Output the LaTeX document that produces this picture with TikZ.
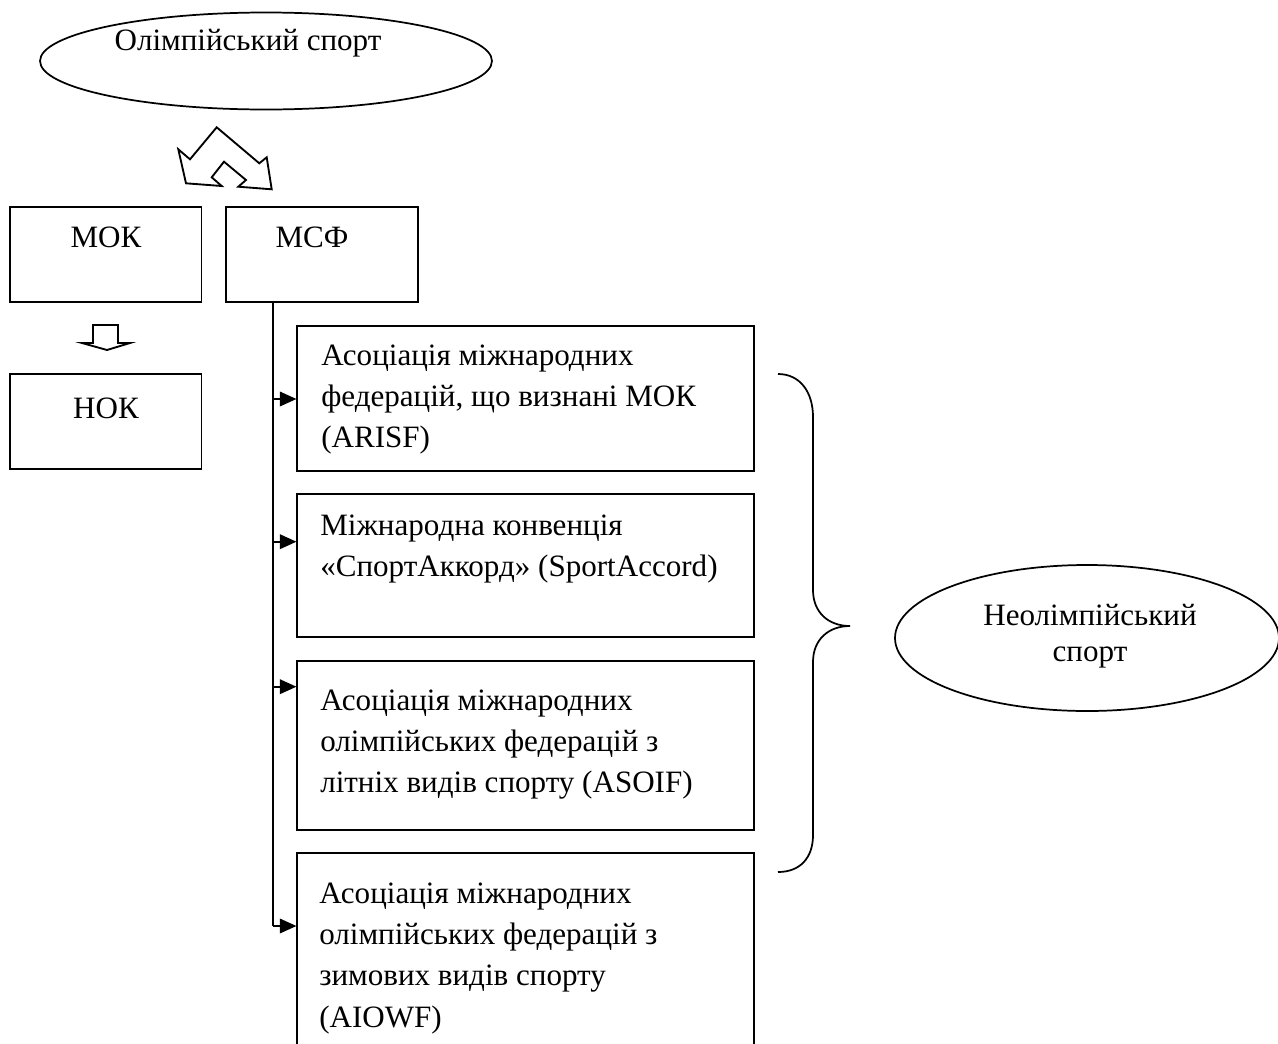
\documentclass[tikz,border=0pt]{standalone}
\usepackage{fontspec}
\setmainfont{Liberation Serif}
\usetikzlibrary{arrows.meta,calc,shapes.geometric}
\newcommand{\mylines}[1]{\begin{tabular}[t]{@{}l@{}}#1\end{tabular}}
\newcommand{\mycentered}[1]{\begin{tabular}[t]{@{}c@{}}#1\end{tabular}}
\begin{document}
\begin{tikzpicture}[x=0.75pt,y=-0.75pt,
  every node/.style={font=\fontsize{23.3}{31.1}\selectfont},
  line/.style={line width=1.3pt},
  box/.style={draw, line width=1.3pt, rectangle, inner sep=0pt},
  smallbox/.style={box, minimum width=143.8pt, minimum height=71.25pt},
  bigbox/.style={box, minimum width=342.75pt},
  oval/.style={draw, line width=1.3pt, ellipse, inner sep=0pt},
  txt/.style={inner sep=0pt, anchor=base west},
  ctxt/.style={inner sep=0pt, anchor=base},
  arr/.style={line width=1.3pt, -{Triangle[length=12.5pt,width=11pt]}},
  blockarrow/.style={line width=1.4pt, line join=miter}
]
\useasboundingbox (0,0) rectangle (1278,1043);

% top ellipse
\node[oval, minimum width=339pt, minimum height=72.75pt] (olymp) at (266,61) {};
\node[ctxt] (tolymp) at (248,50) {Олімпійський спорт};

% double block arrow
\draw[blockarrow] (216.7,127.3) -- (190,159.3) -- (178.3,149.3) -- (186,183.3)
  -- (221.7,186) -- (211.7,177.3) -- (224,161.7) -- (246,180) -- (238.3,186.7)
  -- (271.7,189.3) -- (266.7,157.3) -- (259.3,163.3) -- cycle;

% MOK, MSF, NOK
\node[smallbox] (mok) at (105.5,254.2) {};
\node[ctxt] (tmok) at (106,247) {МОК};
\node[smallbox] (msf) at (321.9,254.2) {};
\node[ctxt] (tmsf) at (312,247) {МСФ};
\node[smallbox] (nok) at (105.5,421.5) {};
\node[ctxt] (tnok) at (106,418) {НОК};

% small down block arrow
\draw[blockarrow] (93,325) -- (118,325) -- (118,343) -- (130,343) -- (107,350)
  -- (82,343) -- (93,343) -- cycle;

% right boxes
\node[bigbox, minimum height=108.97pt] (b1) at (525.8,398.35) {};
\node[txt] (t1) at (321,365) {\mylines{Асоціація міжнародних\\федерацій, що визнані МОК\\(ARISF)}};

\node[bigbox, minimum height=107.25pt] (b2) at (525.8,565.35) {};
\node[txt] (t2) at (320,535) {\mylines{Міжнародна конвенція\\«СпортАккорд» (SportAccord)}};

\node[bigbox, minimum height=126.75pt] (b3) at (525.8,745.5) {};
\node[txt] (t3) at (320,710) {\mylines{Асоціація міжнародних\\олімпійських федерацій з\\літніх видів спорту (ASOIF)}};

\node[bigbox, minimum height=162.75pt] (b4) at (525.8,961.5) {};
\node[txt] (t4) at (319,903) {\mylines{Асоціація міжнародних\\олімпійських федерацій з\\зимових видів спорту\\(AIOWF)}};

% trunk and arrows
\coordinate (trunk) at ($(msf.south west)+(48,0)$);
\draw[line] (trunk) -- (trunk |- 0,926);
\draw[arr] (trunk |- 0,399) -- (b1.west |- 0,399);
\draw[arr] (trunk |- 0,541.7) -- (b2.west |- 0,541.7);
\draw[arr] (trunk |- 0,686.7) -- (b3.west |- 0,686.7);
\draw[arr] (trunk |- 0,926) -- (b4.west |- 0,926);

% brace
\draw[line] (778,374) .. controls (800,374) and (813,392) .. (813,417) -- (813,590)
  .. controls (813,612) and (828,626) .. (850,626)
  .. controls (828,626) and (813,640) .. (813,662) -- (813,835)
  .. controls (813,858) and (800,872) .. (778,872);

% right ellipse
\node[oval, minimum width=288pt, minimum height=109.5pt] (neo) at (1087,638) {};
\node[ctxt, font=\fontsize{23.3}{27}\selectfont] (tneo) at (1090,625) {\mycentered{Неолімпійський\\спорт}};
\end{tikzpicture}
\end{document}
